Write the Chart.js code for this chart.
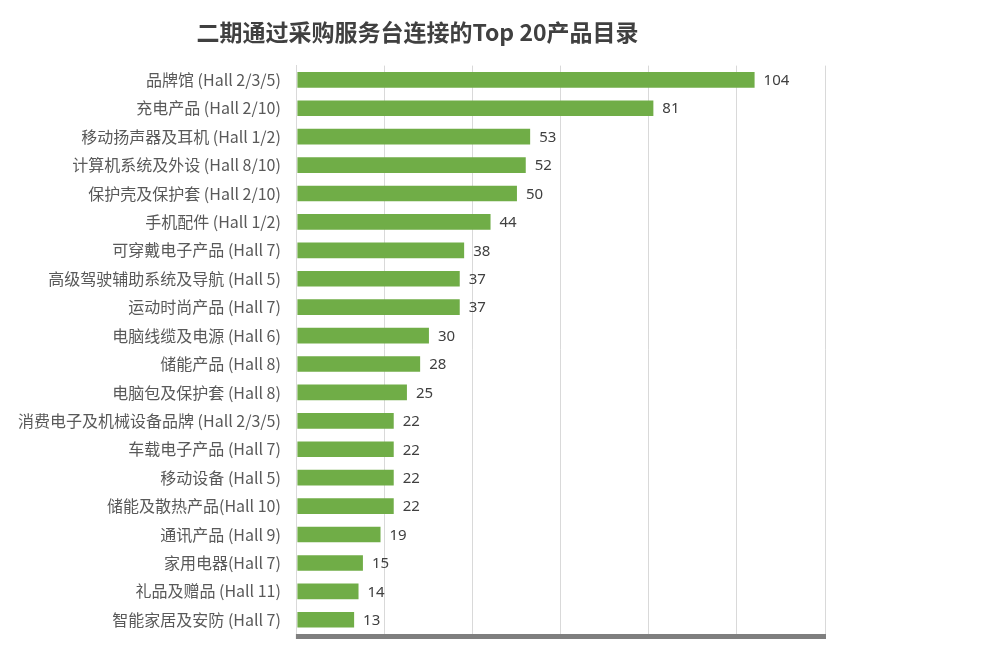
<!DOCTYPE html>
<html><head><meta charset="utf-8">
<script src="https://cdn.jsdelivr.net/npm/chart.js@4"></script>
<style>html,body{margin:0;background:#fff}#w{width:982px;height:666px}</style>
</head><body><div id="w"><canvas id="c"></canvas></div>
<script>
const categories=["品牌馆 (Hall 2/3/5)","充电产品 (Hall 2/10)","移动扬声器及耳机 (Hall 1/2)","计算机系统及外设 (Hall 8/10)","保护壳及保护套 (Hall 2/10)","手机配件 (Hall 1/2)","可穿戴电子产品 (Hall 7)","高级驾驶辅助系统及导航 (Hall 5)","运动时尚产品 (Hall 7)","电脑线缆及电源 (Hall 6)","储能产品 (Hall 8)","电脑包及保护套 (Hall 8)","消费电子及机械设备品牌 (Hall 2/3/5)","车载电子产品 (Hall 7)","移动设备 (Hall 5)","储能及散热产品(Hall 10)","通讯产品 (Hall 9)","家用电器(Hall 7)","礼品及赠品 (Hall 11)","智能家居及安防 (Hall 7)"];
const values=[104,81,53,52,50,44,38,37,37,30,28,25,22,22,22,22,19,15,14,13];
const titleText="二期通过采购服务台连接的Top 20产品目录";
const labelPlugin={
  id:'lbl',
  afterDatasetsDraw(ch){
    const ctx=ch.ctx;
    const meta=ch.getDatasetMeta(0);
    ctx.save();
    ctx.font='15px "Noto Sans","DejaVu Sans",sans-serif';
    ctx.fillStyle='#404040';
    ctx.textBaseline='middle';
    meta.data.forEach((b,i)=>{ctx.fillText(String(values[i]),b.x+9,b.y+1);});
    const xs=ch.scales.x;
    ctx.fillStyle='#7f7f7f';
    ctx.fillRect(xs.left-1,ch.chartArea.bottom,xs.right-xs.left+2,5);
    ctx.restore();
  }
};
const options={
  indexAxis:'y',responsive:true,maintainAspectRatio:false,animation:false,
  layout:{padding:{left:10,right:157,top:0,bottom:32}},
  plugins:{
    legend:{display:false},
    tooltip:{enabled:false},
    title:{display:true,text:titleText,color:'#404040',font:{size:23,weight:'bold',family:'"Noto Sans CJK SC",serif'},padding:{top:18,bottom:20}}
  },
  scales:{
    x:{min:0,max:120,ticks:{display:false,stepSize:20},grid:{color:'#d9d9d9',drawTicks:false},border:{display:false}},
    y:{ticks:{color:'#595959',font:{size:16,family:'"Noto Sans CJK SC","Noto Sans",sans-serif'},padding:8},grid:{display:false},border:{color:'#d9d9d9'}}
  }
};
new Chart(document.getElementById('c'),{
  type:'bar',
  data:{labels:categories,datasets:[{data:values,backgroundColor:'#70ad47',barPercentage:0.55,categoryPercentage:1}]},
  options:options,
  plugins:[labelPlugin]
});
</script></body></html>
